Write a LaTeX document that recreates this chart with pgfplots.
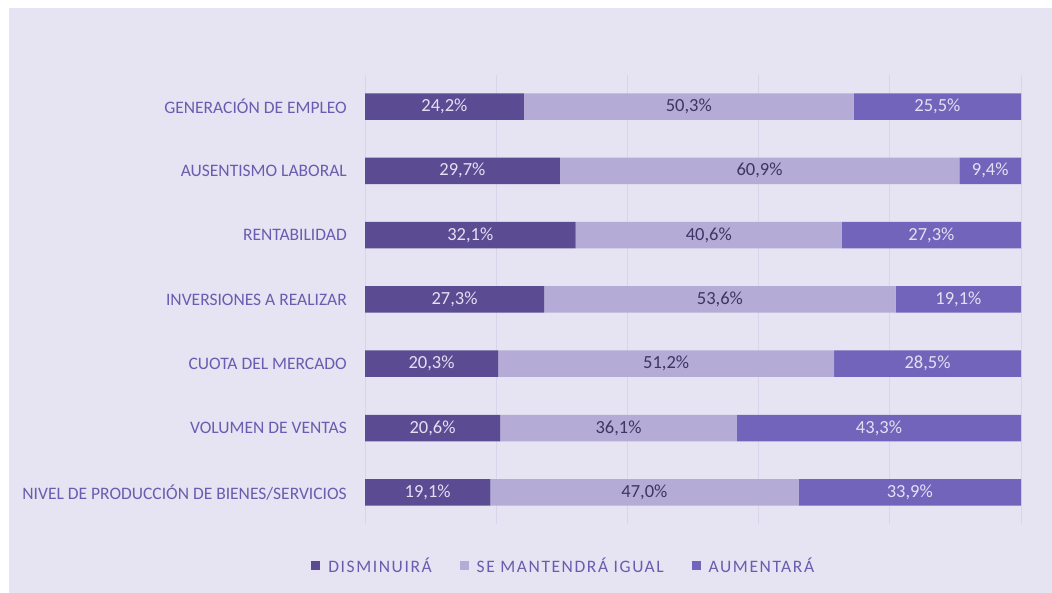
\documentclass[border=0pt]{standalone}
\usepackage{fontspec}
\setmainfont{Carlito}
\newfontfamily\legfont[LetterSpace=9]{Carlito}
\usepackage{pgfplots}
\usepackage{pgfplotstable}
\pgfplotsset{compat=1.18}
\definecolor{bg}{HTML}{E6E3F2}
\definecolor{cdark}{HTML}{5B4B93}
\definecolor{clight}{HTML}{B4ACD7}
\definecolor{cmed}{HTML}{7364BB}
\definecolor{lab}{HTML}{6A5CB0}
\definecolor{gridc}{HTML}{D9D4EA}
\definecolor{vlight}{HTML}{E4E0F2}
\definecolor{vdark}{HTML}{3D3564}
\pgfplotstableread{
y dis igual aum
0 19.1 47.0 33.9
1 20.6 36.1 43.3
2 20.3 51.2 28.5
3 27.3 53.6 19.1
4 32.1 40.6 27.3
5 29.7 60.9 9.4
6 24.2 50.3 25.5
}\datatable
\begin{document}
\begin{tikzpicture}
\fill[white] (0,0) rectangle (1052bp,593bp);
\fill[bg] (9bp,0) rectangle (1052bp,585bp);
\begin{axis}[
  at={(365bp,69.5bp)}, anchor=south west,
  scale only axis, width=656bp, height=448.5bp,
  xbar stacked, bar width=26.5bp,
  xmin=0, xmax=100, ymin=-0.485, ymax=6.49,
  axis line style={draw=none}, tick style={draw=none},
  xtick={0,20,...,100}, xticklabels={}, xmajorgrids,
  grid style={gridc, line width=0.8bp},
  ytick={0,...,6},
  yticklabels={NIVEL DE PRODUCCIÓN DE BIENES/SERVICIOS, VOLUMEN DE VENTAS, CUOTA DEL MERCADO, INVERSIONES A REALIZAR, RENTABILIDAD, AUSENTISMO LABORAL, GENERACIÓN DE EMPLEO},
  yticklabel style={font=\fontsize{17.5bp}{19bp}\selectfont, text=lab, inner sep=0pt, xshift=-18bp},
  visualization depends on=rawx \as \rawx,
  nodes near coords={\pgfmathprintnumber[fixed,fixed zerofill,precision=1,use comma,assume math mode=true]{\rawx}\%},
  every node near coord/.append style={anchor=center, font=\fontsize{18.5bp}{20bp}\selectfont},
  legend style={at={(0.303,-0.094)}, anchor=center, draw=none, fill=none,
    font=\legfont\fontsize{17.5bp}{19bp}\selectfont, text=lab,
    /tikz/every odd column/.append style={column sep=6bp},
    /tikz/every even column/.append style={column sep=26bp}},
  legend columns=3,
  legend image code/.code={\fill[#1] (0bp,-4.5bp) rectangle (9bp,4.5bp);},
]
\addplot[fill=cdark, draw=none, every node near coord/.append style={text=vlight}] table[x=dis, y=y] {\datatable};
\addplot[fill=clight, draw=none, every node near coord/.append style={text=vdark}] table[x=igual, y=y] {\datatable};
\addplot[fill=cmed, draw=none, every node near coord/.append style={text=vlight}] table[x=aum, y=y] {\datatable};
\legend{DISMINUIRÁ, SE MANTENDRÁ IGUAL, AUMENTARÁ}
\end{axis}
\end{tikzpicture}
\end{document}
